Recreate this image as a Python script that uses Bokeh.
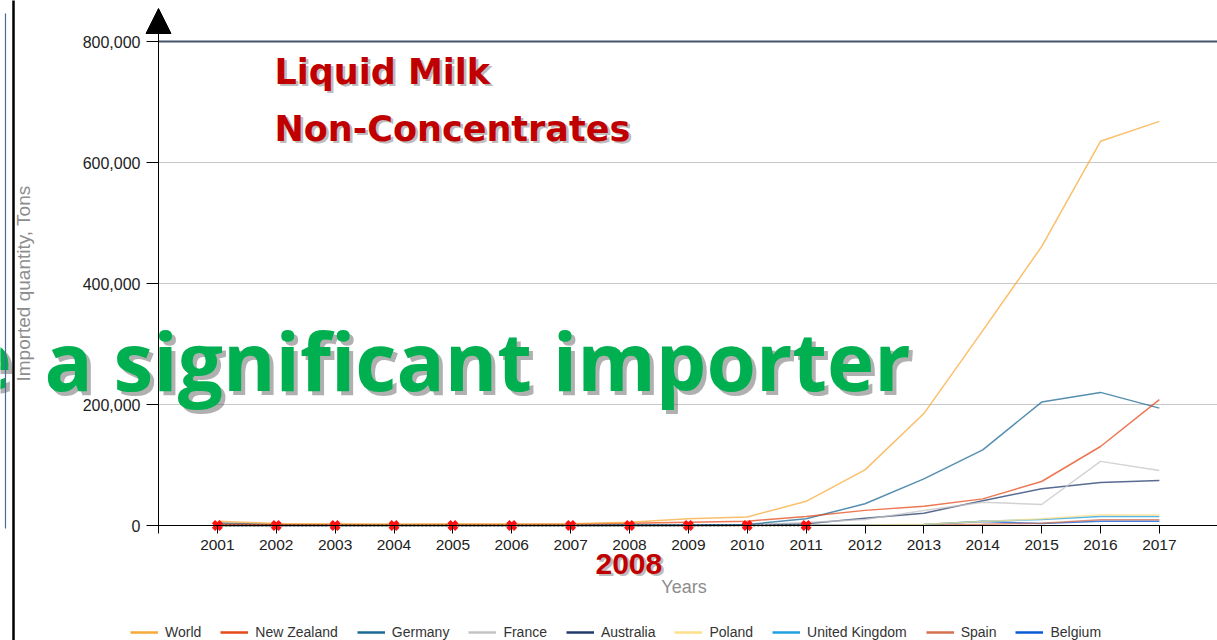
from bokeh.plotting import figure
from bokeh.models import (Range1d, FixedTicker, NumeralTickFormatter, Label,
                          Arrow, NormalHead, Legend, LegendItem)
from bokeh.embed import file_html
from bokeh.resources import INLINE

# ---------------- data ----------------
years = list(range(2001, 2018))
series_names = ["World", "New Zealand", "Germany", "France", "Australia",
                "Poland", "United Kingdom", "Spain", "Belgium"]
world = [7000, 3500, 3000, 2500, 2800, 2600, 3000, 5500, 11000, 14000,
         40000, 92000, 185000, 322000, 461000, 635000, 668000]
new_zealand = [2000, 1500, 1200, 1000, 1200, 1500, 2500, 3900, 5500, 7200,
               15000, 25000, 32000, 44000, 72700, 130600, 208000]
germany = [4000, 1500, 1000, 800, 800, 700, 600, 800, 1000, 1600,
           11000, 36000, 77000, 125000, 204000, 220000, 194000]
france = [1500, 800, 500, 400, 400, 400, 500, 600, 800, 1200,
          5000, 10000, 24800, 38600, 34700, 106000, 91000]
australia = [1000, 600, 500, 400, 400, 500, 600, 700, 900, 1200,
             2800, 12000, 20400, 41000, 60600, 71000, 74400]
poland = [0, 0, 0, 0, 0, 0, 0, 0, 0, 100,
          300, 800, 2000, 6600, 11000, 17600, 17300]
united_kingdom = [100, 100, 100, 100, 100, 100, 100, 200, 300, 400,
                  600, 900, 1500, 7200, 9900, 15000, 14900]
spain = [0, 0, 0, 0, 0, 0, 0, 100, 200, 300,
         400, 600, 1000, 2000, 3900, 9400, 9400]
belgium = [0, 0, 0, 0, 0, 0, 0, 100, 200, 300,
           500, 800, 1500, 6600, 3300, 7200, 7200]
zero_years = list(range(2001, 2012))
zero_values = [0] * len(zero_years)
y_ticks = [0, 200000, 400000, 600000, 800000]

series_values = [world, new_zealand, germany, france, australia,
                 poland, united_kingdom, spain, belgium]
series_colors = ["#f8a93a", "#e64a19", "#1b6a96", "#c4c4c4", "#223a6b",
                 "#ffdf8a", "#1fa0e0", "#d3704f", "#0a5ad6"]

# ---------------- geometry helpers (screen px -> data) ----------------
W, H = 1217, 640
X0, PX_PER_YEAR = 158, 58.875
Y0, PX_PER_UNIT = 525, 121 / 200000


def fx(px):
    return 2000 + (px - X0) / PX_PER_YEAR


def fy(py):
    return (Y0 - py) / PX_PER_UNIT


p = figure(width=W, height=H, output_backend="svg", toolbar_location=None,
           x_range=Range1d(fx(0), fx(W)), y_range=Range1d(fy(H), fy(0)),
           min_border=0, min_border_left=0, min_border_right=0,
           min_border_top=0, min_border_bottom=0)
p.outline_line_color = None
p.background_fill_color = "white"
p.border_fill_color = "white"
p.xgrid.visible = False
p.ygrid.visible = False

# horizontal grid lines starting at the y axis
grid_vals = y_ticks[1:-1]
p.segment(x0=[2000] * len(grid_vals), x1=[fx(W)] * len(grid_vals),
          y0=grid_vals, y1=grid_vals, line_color="#c8c8c8", line_width=1)
p.segment(x0=[2000], x1=[fx(W)], y0=[y_ticks[-1]], y1=[y_ticks[-1]],
          line_color="#44546a", line_width=2)

xa, ya = p.xaxis[0], p.yaxis[0]
xa.fixed_location = 0
ya.fixed_location = 2000
xa.bounds = (fx(150), fx(W))
ya.bounds = (fy(533), fy(33))
xa.ticker = FixedTicker(ticks=years)
ya.ticker = FixedTicker(ticks=y_ticks)
ya.formatter = NumeralTickFormatter(format="0,0")
for ax in (xa, ya):
    ax.axis_line_color = "black"
    ax.major_tick_line_color = "black"
    ax.major_tick_in = 0
    ax.minor_tick_line_color = None
    ax.major_label_text_font = "Liberation Sans"
    ax.major_label_text_color = "#222222"
    ax.axis_label_text_font = "Liberation Sans"
    ax.axis_label_text_font_style = "normal"
    ax.axis_label_text_color = "#8d8d8d"
xa.major_label_text_font_size = "15.5px"
ya.major_label_text_font_size = "16px"
xa.major_tick_out = 8
xa.major_label_standoff = 6
xa.axis_label = "Years"
xa.axis_label_text_font_size = "18px"
xa.axis_label_standoff = 24
ya.major_tick_out = 12
ya.major_label_standoff = 6
ya.axis_label = "Imported quantity, Tons"
ya.axis_label_text_font_size = "19px"
ya.axis_label_standoff = 46

# series lines
items = []
for name, vals, col in reversed(list(zip(series_names, series_values, series_colors))):
    p.line(years, vals, line_color=col, line_width=1.5, line_alpha=0.75)
nan = float("nan")
for name, vals, col in zip(series_names, series_values, series_colors):
    r = p.line(x=[nan, nan], y=[nan, nan], line_color=col, line_width=2.5)
    items.append(LegendItem(label=name, renderers=[r]))

# zero marker series
p.line(zero_years, zero_values, line_color="black", line_width=1.5, line_dash="2 2")
p.scatter(zero_years, zero_values, marker="x", size=11, line_width=4.5, line_color="#ff1010")

legend = Legend(items=items, orientation="horizontal", location=(130, 0),
                padding=0, margin=0, spacing=19, label_standoff=7,
                glyph_width=28, glyph_height=16, label_height=16,
                label_text_font="Liberation Sans", label_text_font_size="14px",
                label_text_color="#333333", border_line_color=None,
                background_fill_alpha=0)
p.add_layout(legend, "center")


def shadowed(text, px, py, font, size, style, color, dx, dy, shadow_alpha):
    p.add_layout(Label(x=fx(px + dx), y=fy(py + dy), text=text, text_font=font,
                       text_font_size=size, text_font_style=style, text_color="#505050",
                       text_alpha=shadow_alpha, text_baseline="alphabetic", text_align="left"))
    p.add_layout(Label(x=fx(px), y=fy(py), text=text, text_font=font,
                       text_font_size=size, text_font_style=style, text_color=color,
                       text_baseline="alphabetic", text_align="left"))


shadowed("Liquid Milk", 274, 71, "DejaVu Sans", "35px", "bold", "#c00000", 2.5, 2.5, 0.4)
shadowed("Non-Concentrates", 274, 128, "DejaVu Sans", "35px", "bold", "#c00000", 2.5, 2.5, 0.4)
shadowed("2008", 595, 563, "Liberation Sans", "30px", "bold", "#c00000", 2.5, 2.5, 0.4)
shadowed("e", -36, 359, "Open Sans", "80px", "bold", "#00b050", 4, 4, 0.45)
shadowed("a significant importer", 44, 359, "Open Sans", "80px", "bold", "#00b050", 4, 4, 0.45)

# y-axis arrow head, left rules (fragment of neighbouring slide content)
p.add_layout(Arrow(x_start=2000, y_start=y_ticks[-1], x_end=2000, y_end=fy(8),
                   end=NormalHead(size=25, fill_color="black", line_color="black", line_width=1),
                   line_color="black", line_width=1))
p.add_layout(Arrow(x_start=fx(13), y_start=fy(H + 20), x_end=fx(13), y_end=fy(-20),
                   end=None, line_color="black", line_width=2.5))
p.add_layout(Arrow(x_start=fx(5), y_start=fy(528), x_end=fx(5), y_end=fy(13),
                   end=None, line_color="#4a6a9a", line_width=1.2))

open("out.html", "w").write(file_html(p, INLINE))
